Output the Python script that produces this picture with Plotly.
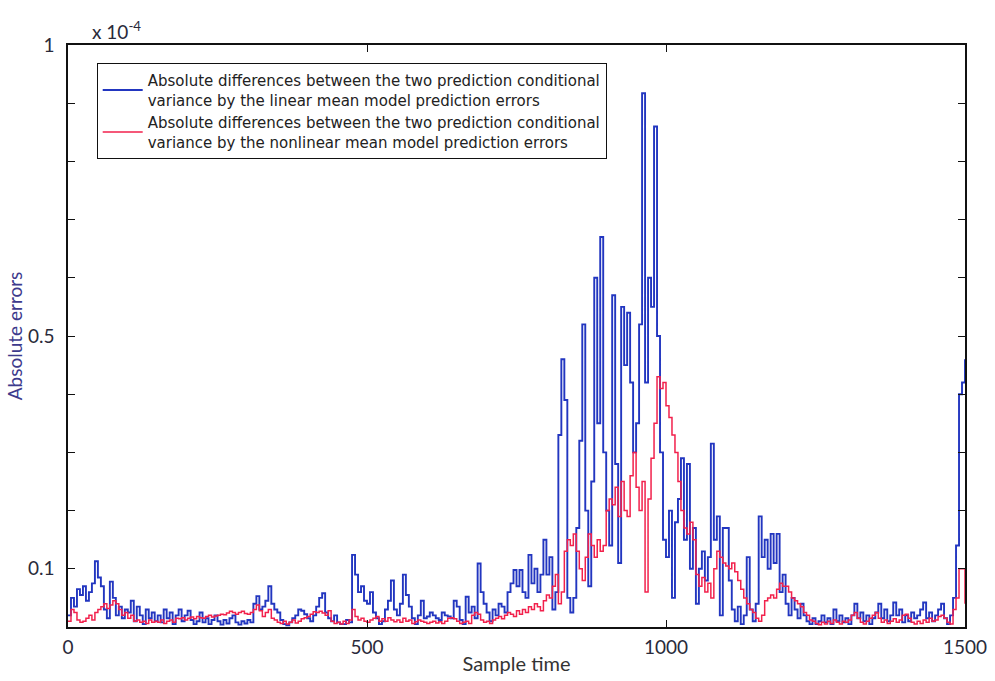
import plotly.graph_objects as go

# ---------------- data (values in units of 1e-4) ----------------
sample_step = 5
sample_time = list(range(0, 1501, sample_step))

linear_mean_err = [
    0.02, 0.05, 0.035, 0.065, 0.055, 0.07, 0.045, 0.06, 0.075, 0.113,      # 0-45
    0.085, 0.07, 0.03, 0.015, 0.078, 0.05, 0.02, 0.035, 0.015, 0.03,       # 50-95
    0.025, 0.045, 0.01, 0.035, 0.02, 0.005, 0.03, 0.015, 0.025, 0.01,      # 100-145
    0.02, 0.008, 0.03, 0.015, 0.025, 0.005, 0.02, 0.03, 0.01, 0.02,        # 150-195
    0.028, 0.012, 0.005, 0.01, 0.025, 0.008, 0.015, 0.005, 0.012, 0.02,    # 200-245
    0.01, 0.004, 0.012, 0.006, 0.015, 0.02, 0.008, 0.004, 0.01, 0.006,     # 250-295
    0.012, 0.008, 0.04, 0.053, 0.03, 0.035, 0.045, 0.07, 0.04, 0.03,       # 300-345
    0.025, 0.012, 0.005, 0.003, 0.008, 0.015, 0.02, 0.03, 0.028, 0.022,    # 350-395
    0.015, 0.01, 0.02, 0.035, 0.05, 0.058, 0.025, 0.015, 0.01, 0.02,       # 400-445
    0.008, 0.005, 0.005, 0.012, 0.008, 0.124, 0.09, 0.06, 0.07, 0.045,     # 450-495
    0.04, 0.06, 0.025, 0.015, 0.005, 0.01, 0.03, 0.045, 0.08, 0.03,        # 500-545
    0.02, 0.04, 0.09, 0.055, 0.035, 0.015, 0.005, 0.02, 0.045, 0.015,      # 550-595
    0.018, 0.025, 0.02, 0.015, 0.012, 0.025, 0.02, 0.018, 0.015, 0.045,    # 600-645
    0.035, 0.012, 0.005, 0.052, 0.025, 0.035, 0.015, 0.109, 0.06, 0.04,    # 650-695
    0.025, 0.01, 0.03, 0.02, 0.04, 0.035, 0.025, 0.06, 0.075, 0.098,       # 700-745
    0.07, 0.098, 0.06, 0.05, 0.124, 0.075, 0.1, 0.06, 0.09, 0.15,          # 750-795
    0.09, 0.12, 0.03, 0.06, 0.33, 0.46, 0.39, 0.05, 0.025, 0.05,           # 800-845
    0.17, 0.32, 0.52, 0.2, 0.07, 0.25, 0.6, 0.35, 0.67, 0.3,               # 850-895
    0.2, 0.14, 0.57, 0.28, 0.11, 0.55, 0.45, 0.54, 0.42, 0.3,              # 900-945
    0.35, 0.52, 0.917, 0.42, 0.6, 0.55, 0.86, 0.5, 0.3, 0.15,              # 950-995
    0.12, 0.2, 0.05, 0.18, 0.22, 0.29, 0.15, 0.28, 0.1, 0.17,              # 1000-1045
    0.04, 0.1, 0.13, 0.08, 0.12, 0.315, 0.15, 0.19, 0.02, 0.17,            # 1050-1095
    0.17, 0.08, 0.03, 0.01, 0.035, 0.005, 0.02, 0.12, 0.03, 0.01,          # 1100-1145
    0.04, 0.19, 0.12, 0.15, 0.1, 0.16, 0.11, 0.16, 0.06, 0.09,             # 1150-1195
    0.04, 0.02, 0.05, 0.03, 0.015, 0.04, 0.02, 0.01, 0.005, 0.015,         # 1200-1245
    0.005, 0.01, 0.02, 0.008, 0.015, 0.005, 0.03, 0.01, 0.02, 0.008,       # 1250-1295
    0.015, 0.005, 0.02, 0.04, 0.015, 0.025, 0.01, 0.02, 0.005, 0.015,      # 1300-1345
    0.025, 0.04, 0.015, 0.03, 0.01, 0.02, 0.042, 0.02, 0.03, 0.008,        # 1350-1395
    0.02, 0.01, 0.025, 0.015, 0.02, 0.03, 0.042, 0.015, 0.025, 0.01,       # 1400-1445
    0.02, 0.03, 0.04, 0.015, 0.005, 0.02, 0.05, 0.14, 0.4, 0.42,           # 1450-1495
    0.46,                                                                  # 1500
]

nonlinear_mean_err = [
    0.01, 0.03, 0.025, 0.012, 0.008, 0.01, 0.015, 0.02, 0.012, 0.025,      # 0-45
    0.03, 0.035, 0.04, 0.032, 0.038, 0.045, 0.04, 0.03, 0.02, 0.025,       # 50-95
    0.015, 0.02, 0.01, 0.012, 0.008, 0.01, 0.006, 0.012, 0.008, 0.01,      # 100-145
    0.008, 0.012, 0.006, 0.01, 0.012, 0.008, 0.015, 0.014, 0.016, 0.012,   # 150-195
    0.015, 0.017, 0.014, 0.018, 0.016, 0.015, 0.018, 0.02, 0.017, 0.019,   # 200-245
    0.02, 0.022, 0.021, 0.024, 0.027, 0.025, 0.022, 0.025, 0.027, 0.023,   # 250-295
    0.022, 0.025, 0.03, 0.038, 0.028, 0.018, 0.025, 0.03, 0.015, 0.012,    # 300-345
    0.008, 0.006, 0.01, 0.005, 0.008, 0.012, 0.007, 0.01, 0.014, 0.016,    # 350-395
    0.018, 0.022, 0.026, 0.025, 0.027, 0.024, 0.02, 0.028, 0.01, 0.006,    # 400-445
    0.008, 0.005, 0.01, 0.006, 0.012, 0.03, 0.018, 0.012, 0.015, 0.01,     # 450-495
    0.008, 0.012, 0.015, 0.018, 0.01, 0.014, 0.01, 0.016, 0.012, 0.009,    # 500-545
    0.012, 0.008, 0.015, 0.01, 0.012, 0.006, 0.009, 0.012, 0.01, 0.008,    # 550-595
    0.006, 0.008, 0.01, 0.007, 0.009, 0.006, 0.01, 0.015, 0.016, 0.014,    # 600-645
    0.01, 0.006, 0.008, 0.01, 0.006, 0.02, 0.025, 0.022, 0.012, 0.008,     # 650-695
    0.01, 0.006, 0.012, 0.015, 0.018, 0.014, 0.02, 0.025, 0.022, 0.018,    # 700-745
    0.028, 0.022, 0.03, 0.025, 0.035, 0.03, 0.04, 0.035, 0.028, 0.045,     # 750-795
    0.055, 0.05, 0.07, 0.09, 0.04, 0.06, 0.13, 0.15, 0.14, 0.16,           # 800-845
    0.13, 0.1, 0.08, 0.12, 0.16, 0.14, 0.12, 0.15, 0.13, 0.14,             # 850-895
    0.2, 0.22, 0.21, 0.24, 0.19, 0.25, 0.2, 0.19, 0.26, 0.3,               # 900-945
    0.24, 0.2, 0.25, 0.06, 0.22, 0.29, 0.35, 0.43, 0.41, 0.42,             # 950-995
    0.38, 0.36, 0.33, 0.3, 0.25, 0.2, 0.17, 0.16, 0.18, 0.15,              # 1000-1045
    0.09, 0.07, 0.085, 0.06, 0.075, 0.05, 0.1, 0.13, 0.12, 0.11,           # 1050-1095
    0.105, 0.1, 0.11, 0.095, 0.08, 0.065, 0.05, 0.04, 0.03, 0.025,         # 1100-1145
    0.015, 0.01, 0.02, 0.045, 0.05, 0.055, 0.05, 0.065, 0.075, 0.07,       # 1150-1195
    0.07, 0.06, 0.05, 0.045, 0.04, 0.035, 0.025, 0.02, 0.012, 0.01,        # 1200-1245
    0.006, 0.004, 0.008, 0.005, 0.01, 0.006, 0.012, 0.008, 0.005, 0.01,    # 1250-1295
    0.008, 0.012, 0.02, 0.025, 0.015, 0.008, 0.005, 0.01, 0.015, 0.02,     # 1300-1345
    0.025, 0.015, 0.008, 0.012, 0.006, 0.01, 0.014, 0.008, 0.012, 0.02,    # 1350-1395
    0.022, 0.015, 0.008, 0.005, 0.01, 0.006, 0.012, 0.008, 0.015, 0.01,    # 1400-1445
    0.012, 0.018, 0.02, 0.015, 0.008, 0.005, 0.03, 0.05, 0.1, 0.1,         # 1450-1495
    0.04,                                                                  # 1500
]

series_names = [
    "Absolute differences between the two prediction conditional<br>variance by the linear mean model prediction errors",
    "Absolute differences between the two prediction conditional<br>variance by the nonlinear mean model prediction errors",
]
x_tick_vals = [0, 500, 1000, 1500]
x_tick_text = ["0", "500", "1000", "1500"]
y_tick_vals = [0.1, 0.2, 0.3, 0.4, 0.5, 0.6, 0.7, 0.8, 0.9, 1.0]
y_tick_text = ["0.1", "", "", "", "0.5", "", "", "", "", "1"]

# ---------------- figure ----------------
fig = go.Figure()
fig.add_trace(go.Scatter(
    x=sample_time, y=linear_mean_err, mode="lines", name=series_names[0],
    line=dict(color="#2236c0", width=1.9, shape="hv"),
))
fig.add_trace(go.Scatter(
    x=sample_time, y=nonlinear_mean_err, mode="lines", name=series_names[1],
    line=dict(color="#f2214c", width=1.5, shape="hv"),
))

tick_font = dict(family="Lato, Open Sans, sans-serif", size=19, color="#2a2a3a")

fig.update_layout(
    width=995, height=681,
    margin=dict(l=68, r=30, t=45, b=54),
    paper_bgcolor="white", plot_bgcolor="white",
    showlegend=True,
    legend=dict(
        x=0.032, y=0.969, xanchor="left", yanchor="top",
        bgcolor="white", bordercolor="#111", borderwidth=1,
        font=dict(family="DejaVu Sans, Verdana, sans-serif", size=15, color="#222"),
        tracegroupgap=2, itemwidth=40,
    ),
    xaxis=dict(
        range=[0, 1500], tickmode="array", tickvals=x_tick_vals, ticktext=x_tick_text,
        ticks="inside", ticklen=7, tickwidth=1.3, tickcolor="#111",
        showline=True, linecolor="#111", linewidth=1.5, mirror="ticks",
        showgrid=False, zeroline=False, tickfont=tick_font, ticklabelstandoff=2,
        automargin=False,
        title=dict(text="Sample time", standoff=0,
                   font=dict(family="Lato, Open Sans, sans-serif", size=20, color="#333")),
    ),
    yaxis=dict(
        range=[0, 1], tickmode="array", tickvals=y_tick_vals, ticktext=y_tick_text,
        ticks="inside", ticklen=7, tickwidth=1.3, tickcolor="#111",
        showline=True, linecolor="#111", linewidth=1.5, mirror="ticks",
        showgrid=False, zeroline=False, tickfont=tick_font, ticklabelstandoff=8,
        automargin=False,
        title=dict(text="Absolute errors", standoff=0,
                   font=dict(family="Lato, Open Sans, sans-serif", size=19, color="#3d3a8c")),
    ),
    annotations=[
        dict(text="x 10<sup>-4</sup>", xref="paper", yref="paper", x=0.024, y=1.0,
             xanchor="left", yanchor="bottom", showarrow=False,
             font=dict(family="Lato, Open Sans, sans-serif", size=19, color="#2a2a3a")),
    ],
)

fig.write_html("out.html")
